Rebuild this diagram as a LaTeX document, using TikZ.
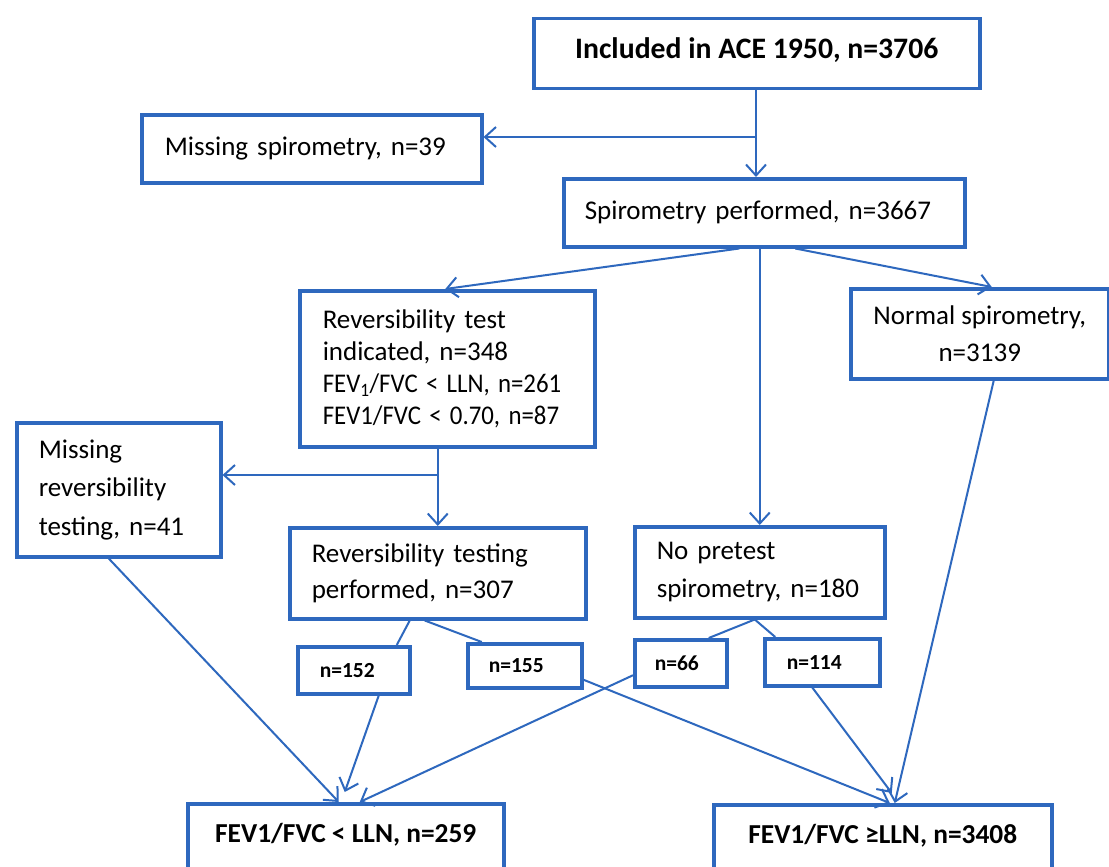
\documentclass[tikz,border=0pt]{standalone}
\usepackage{fontspec}
\setmainfont{Carlito}
\usetikzlibrary{arrows.meta}
\definecolor{bl}{RGB}{46,104,190}
\begin{document}
\begin{tikzpicture}[x=1pt,y=-1pt,
  box/.style={draw=bl, line width=3.5pt, rectangle, anchor=north west, inner ysep=0pt, text=black,
    font=\fontsize{27}{32}\selectfont},
  lbox/.style={box, align=left},
  cbox/.style={box, align=center},
  nbox/.style={box, align=left, font=\fontsize{21.5}{26}\selectfont\bfseries},
  conn/.style={draw=bl, line width=2pt},
  arr/.style={conn, -{Straight Barb[length=11pt,width=20pt]}}
]
\clip (0,0) rectangle (1109,867);
\fill[white] (0,0) rectangle (1109,867);

% boxes
\node[cbox, minimum width=446pt, text height=39.5pt, text depth=30.5pt,
  font=\fontsize{29.7}{34}\selectfont\bfseries]
  (top) at (532,17) {Included in ACE 1950, n=3706};
\node[lbox, minimum width=340pt, minimum height=68pt, inner xsep=23pt, text width=294pt]
  (miss) at (140,113) {\mbox{Missing spirometry, n=39}};
\node[lbox, minimum width=401pt, minimum height=68pt, inner xsep=21pt, text width=359pt]
  (spiro) at (562,177) {\mbox{Spirometry performed, n=3667}};
\node[lbox, minimum width=295pt, minimum height=156pt, inner xsep=23pt, text width=249pt,
  font=\fontsize{27}{32}\selectfont]
  (revind) at (298,289) {\mbox{Reversibility test}\\ \mbox{indicated, n=348}\\
  \mbox{\scalebox{0.92}[1]{FEV\textsubscript{1}/FVC < LLN, n=261}}\\
  \mbox{\scalebox{0.92}[1]{FEV1/FVC < 0.70, n=87}}};
\node[cbox, minimum width=258pt, minimum height=90pt, font=\fontsize{27}{37}\selectfont]
  (normal) at (849,287) {Normal spirometry,\\ n=3139};
\node[lbox, minimum width=204pt, minimum height=134pt, inner xsep=22pt, text width=160pt,
  font=\fontsize{27}{38.5}\selectfont]
  (missrev) at (15,421) {\mbox{Missing}\\ \mbox{reversibility}\\ \mbox{testing, n=41}};
\node[lbox, minimum width=296pt, minimum height=91pt, inner xsep=22pt, text width=252pt,
  font=\fontsize{27}{36}\selectfont]
  (revperf) at (288,526) {\mbox{Reversibility testing}\\ \mbox{performed, n=307}};
\node[lbox, minimum width=250pt, minimum height=91pt, inner xsep=22pt, text width=206pt,
  font=\fontsize{27}{38}\selectfont]
  (nopre) at (633,525) {\mbox{No pretest}\\ \mbox{spirometry, n=180}};
\node[nbox, minimum width=112pt, minimum height=47pt, inner xsep=22pt, text width=68pt]
  (n152) at (296,645) {n=152};
\node[nbox, minimum width=114pt, minimum height=44pt, inner xsep=21pt, text width=72pt]
  (n155) at (466,642) {n=155};
\node[nbox, minimum width=92pt, minimum height=47pt, inner xsep=20pt, text width=52pt]
  (n66) at (633,638) {n=66};
\node[nbox, minimum width=115pt, minimum height=47pt, inner xsep=22pt, text width=71pt]
  (n114) at (763,637) {n=114};
\node[box, align=center, minimum width=316pt, text height=39pt, text depth=40pt,
  font=\fontsize{27.4}{32}\selectfont\bfseries]
  (lln) at (186,802) {FEV1/FVC < LLN, n=259};
\node[box, align=center, minimum width=338pt, text height=39pt, text depth=40pt,
  font=\fontsize{27.4}{32}\selectfont\bfseries]
  (geq) at (712,803) {FEV1/FVC ≥LLN, n=3408};

% junctions
\coordinate (j1) at (756,137);
\coordinate (j2) at (437,475);

% connectors
\draw[arr] (top.south -| j1) -- (spiro.north -| j1);
\draw[arr] (j1) -- (j1 -| miss.east);
\draw[arr] ([xshift=-25pt]spiro.south) -- ([xshift=-2pt]revind.north);
\draw[arr] ([xshift=31pt]spiro.south) -- ([xshift=12pt]normal.north);
\draw[arr] (nopre.north |- spiro.south) -- (nopre.north);
\draw[arr] ([xshift=14pt]normal.south) -- ([xshift=12pt]geq.north);
\draw[arr] (revperf.north |- revind.south) -- (revperf.north);
\draw[arr] (j2) -- (j2 -| missrev.east);
\draw[conn] ([xshift=-28pt]revperf.south) -- ([xshift=43pt]n152.north);
\draw[conn] ([xshift=-13pt]revperf.south) -- ([xshift=-43pt]n155.north);
\draw[conn] ([xshift=-5pt]nopre.south) -- ([xshift=28pt]n66.north);
\draw[conn] ([xshift=-5pt]nopre.south) -- ([xshift=-47pt]n114.north);
\draw[arr] ([xshift=-10pt]missrev.south) -- ([xshift=-7pt]lln.north);
\draw[arr] ([xshift=25pt]n152.south) -- ([xshift=-1pt,yshift=10pt]lln.north);
\draw[arr] ([yshift=-12pt]n66.west) -- ([xshift=14pt]lln.north);
\draw[arr] ([yshift=-14pt]n155.east) -- ([xshift=7pt]geq.north);
\draw[arr] ([xshift=-10pt]n114.south) -- ([xshift=9pt,yshift=10pt]geq.north);
\end{tikzpicture}
\end{document}
